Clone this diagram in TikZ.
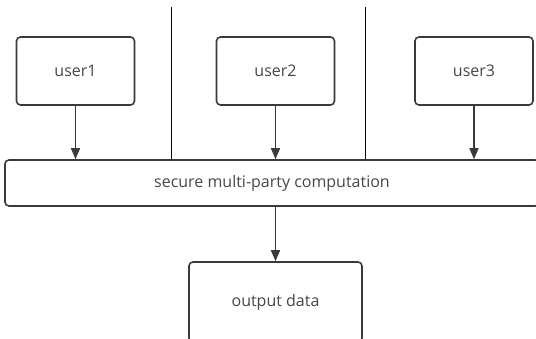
\documentclass[tikz,border=0pt]{standalone}
\usepackage{fontspec}
\setmainfont{Open Sans}
\usetikzlibrary{arrows.meta}
\definecolor{boxline}{HTML}{3A3A3A}
\definecolor{boxtext}{HTML}{474747}
\tikzset{
  userbox/.style={draw=boxline,line width=1.6pt,rounded corners=4pt,minimum width=118pt,minimum height=68pt,text=boxtext,font=\fontsize{16}{19}\selectfont},
  flow/.style={draw=boxline,line width=1.6pt,-{Triangle[length=11pt,width=9pt]}},
  divider/.style={draw=black,line width=1pt}
}
\begin{document}
\begin{tikzpicture}[x=1pt,y=-1pt]
\useasboundingbox (0,0) rectangle (536,339);
\clip (0,0) rectangle (536,339);
\node[userbox] (user1) at (75.5,71) {user1};
\node[userbox] (user2) at (275.5,71) {user2};
\node[userbox] (user3) at (474,71) {user3};
\node[userbox,minimum width=534pt,minimum height=46pt] (mpc) at (272,183) {secure multi-party computation};
\node[userbox,minimum width=173pt,minimum height=80pt] (out) at (275.5,302) {output data};
\coordinate (top1) at (171,7);
\coordinate (top2) at (365,7);
\draw[divider] (top1) -- (top1 |- mpc.north);
\draw[divider] (top2) -- (top2 |- mpc.north);
\draw[flow] (user1) -- (user1 |- mpc.north);
\draw[flow] (user2) -- (user2 |- mpc.north);
\draw[flow] (user3) -- (user3 |- mpc.north);
\draw[flow] (mpc.south -| out.north) -- (out.north);
\end{tikzpicture}
\end{document}
